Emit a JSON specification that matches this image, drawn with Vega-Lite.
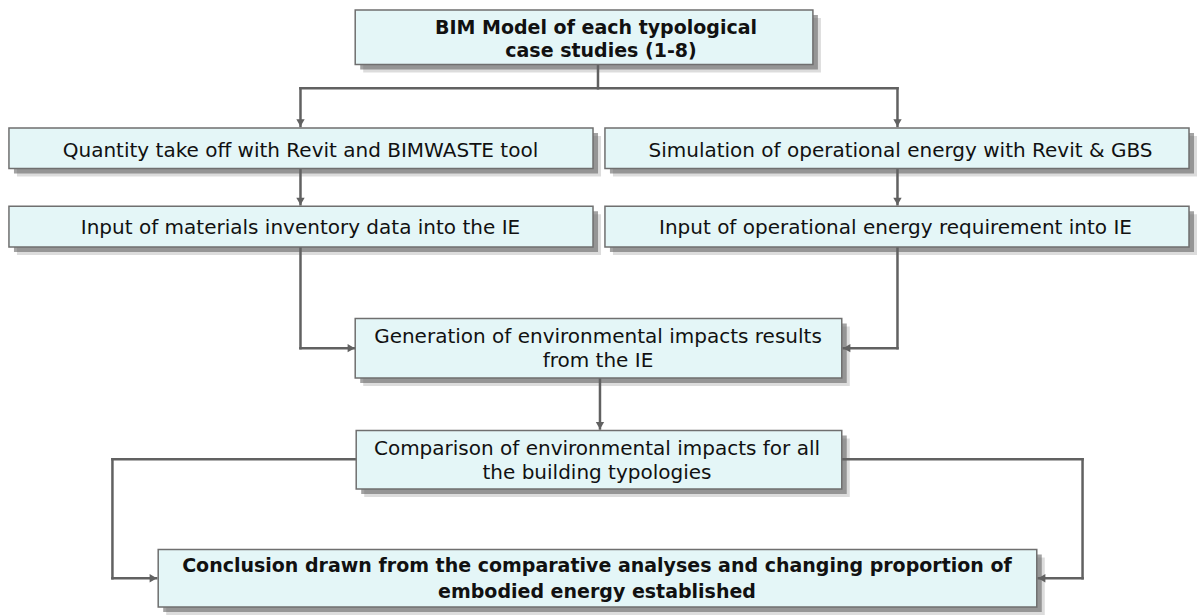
{
  "$schema": "https://vega.github.io/schema/vega-lite/v6.json",
  "width": 1197,
  "height": 615,
  "padding": 0,
  "autosize": {"type": "fit", "contains": "padding"},
  "background": "white",
  "config": {"view": {"stroke": null}},
  "datasets": {
    "boxes": [
      {"id": "bim", "x1": 357, "x2": 817, "y1": 10, "y2": 65},
      {"id": "qto", "x1": 9, "x2": 596, "y1": 129, "y2": 170},
      {"id": "sim", "x1": 608, "x2": 1195, "y1": 129, "y2": 170},
      {"id": "inmat", "x1": 9, "x2": 596, "y1": 208, "y2": 249},
      {"id": "inop", "x1": 608, "x2": 1195, "y1": 208, "y2": 249},
      {"id": "gen", "x1": 357, "x2": 846, "y1": 321, "y2": 381},
      {"id": "comp", "x1": 358, "x2": 846, "y1": 434, "y2": 493},
      {"id": "concl", "x1": 159, "x2": 1042, "y1": 554, "y2": 612}
    ],
    "links": [
      {"x": 601, "y": 65, "x2": 601, "y2": 89},
      {"x": 302, "y": 89, "x2": 902, "y2": 89},
      {"x": 302, "y": 89, "x2": 302, "y2": 127},
      {"x": 902, "y": 89, "x2": 902, "y2": 127},
      {"x": 302, "y": 170, "x2": 302, "y2": 206},
      {"x": 902, "y": 170, "x2": 902, "y2": 206},
      {"x": 302, "y": 249, "x2": 302, "y2": 351},
      {"x": 302, "y": 351, "x2": 356, "y2": 351},
      {"x": 902, "y": 249, "x2": 902, "y2": 351},
      {"x": 902, "y": 351, "x2": 848, "y2": 351},
      {"x": 603, "y": 381, "x2": 603, "y2": 432},
      {"x": 358, "y": 463, "x2": 113, "y2": 463},
      {"x": 113, "y": 463, "x2": 113, "y2": 583},
      {"x": 113, "y": 583, "x2": 157, "y2": 583},
      {"x": 846, "y": 463, "x2": 1088, "y2": 463},
      {"x": 1088, "y": 463, "x2": 1088, "y2": 583},
      {"x": 1088, "y": 583, "x2": 1044, "y2": 583}
    ],
    "arrows": [
      {"x": 302, "y": 124, "dir": "triangle-down"},
      {"x": 902, "y": 124, "dir": "triangle-down"},
      {"x": 302, "y": 203, "dir": "triangle-down"},
      {"x": 902, "y": 203, "dir": "triangle-down"},
      {"x": 353, "y": 351, "dir": "triangle-right"},
      {"x": 851, "y": 351, "dir": "triangle-left"},
      {"x": 603, "y": 429, "dir": "triangle-down"},
      {"x": 154, "y": 583, "dir": "triangle-right"},
      {"x": 1047, "y": 583, "dir": "triangle-left"}
    ],
    "labels": [
      {"x": 302, "y": 152, "text": "Quantity take off with Revit and BIMWASTE tool"},
      {"x": 905, "y": 152, "text": "Simulation of operational energy with Revit & GBS"},
      {"x": 302, "y": 230, "text": "Input of materials inventory data into the IE"},
      {"x": 900, "y": 230, "text": "Input of operational energy requirement into IE"},
      {"x": 601, "y": 340, "text": "Generation of environmental impacts results"},
      {"x": 601, "y": 364, "text": "from the IE"},
      {"x": 600, "y": 453, "text": "Comparison of environmental impacts for all"},
      {"x": 600, "y": 477, "text": "the building typologies"},
      {"x": 600, "y": 571, "text": "Conclusion drawn from the comparative analyses and changing proportion of", "bold": true},
      {"x": 600, "y": 597, "text": "embodied energy established", "bold": true},
      {"x": 599, "y": 28, "text": "BIM Model of each typological", "bold": true},
      {"x": 604, "y": 51, "text": "case studies (1-8)", "bold": true}
    ]
  },
  "encoding": {
    "x": {"type": "quantitative", "scale": {"domain": [0, 1197], "nice": false, "zero": false}, "axis": null},
    "y": {"type": "quantitative", "scale": {"domain": [0, 615], "nice": false, "zero": false, "reverse": true}, "axis": null}
  },
  "layer": [
    {
      "data": {"name": "boxes"},
      "mark": {"type": "rect", "fill": "#9a9a9a", "opacity": 0.35, "xOffset": 8, "x2Offset": 8, "yOffset": 8, "y2Offset": 8},
      "encoding": {"x": {"field": "x1"}, "x2": {"field": "x2"}, "y": {"field": "y1"}, "y2": {"field": "y2"}}
    },
    {
      "data": {"name": "boxes"},
      "mark": {"type": "rect", "fill": "#666666", "opacity": 0.6, "xOffset": 5, "x2Offset": 5, "yOffset": 5, "y2Offset": 5},
      "encoding": {"x": {"field": "x1"}, "x2": {"field": "x2"}, "y": {"field": "y1"}, "y2": {"field": "y2"}}
    },
    {
      "data": {"name": "links"},
      "mark": {"type": "rule", "color": "#616161", "strokeWidth": 2.5, "strokeCap": "square"},
      "encoding": {"x": {"field": "x"}, "y": {"field": "y"}, "x2": {"field": "x2"}, "y2": {"field": "y2"}}
    },
    {
      "data": {"name": "boxes"},
      "mark": {"type": "rect", "fill": "#E4F6F7", "stroke": "#6f6f6f", "strokeWidth": 1.5},
      "encoding": {"x": {"field": "x1"}, "x2": {"field": "x2"}, "y": {"field": "y1"}, "y2": {"field": "y2"}}
    },
    {
      "data": {"name": "arrows"},
      "mark": {"type": "point", "filled": true, "color": "#616161", "size": 70, "opacity": 1},
      "encoding": {
        "x": {"field": "x"},
        "y": {"field": "y"},
        "shape": {"field": "dir", "type": "nominal", "scale": null}
      }
    },
    {
      "data": {"name": "labels"},
      "transform": [{"filter": "!datum.bold"}],
      "mark": {"type": "text", "font": "DejaVu Sans", "fontSize": 20, "color": "#111111", "align": "center", "baseline": "middle"},
      "encoding": {"x": {"field": "x"}, "y": {"field": "y"}, "text": {"field": "text"}}
    },
    {
      "data": {"name": "labels"},
      "transform": [{"filter": "datum.bold"}],
      "mark": {"type": "text", "font": "DejaVu Sans", "fontSize": 19, "fontWeight": "bold", "color": "#111111", "align": "center", "baseline": "middle"},
      "encoding": {"x": {"field": "x"}, "y": {"field": "y"}, "text": {"field": "text"}}
    }
  ]
}
